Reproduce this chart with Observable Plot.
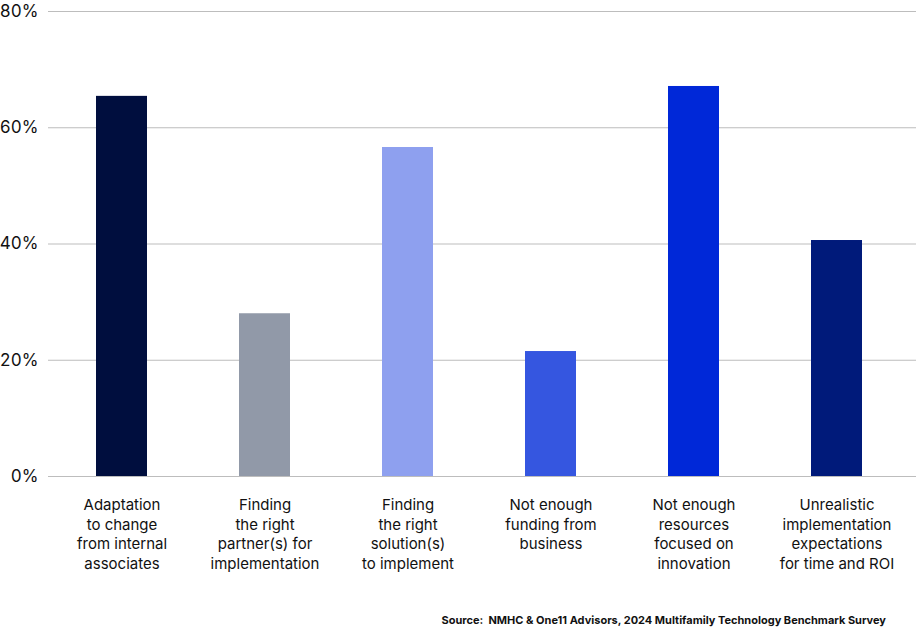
<!DOCTYPE html>
<html>
<head>
<meta charset="utf-8">
<script src="https://cdn.jsdelivr.net/npm/d3@7"></script>
<script src="https://cdn.jsdelivr.net/npm/@observablehq/plot@0.6"></script>
<style>
  html, body { margin: 0; padding: 0; background: #fff; }
  #chart { width: 916px; }
  #caption { font-family: Inter, "Liberation Sans", sans-serif; font-weight: 700; font-size: 11px; color: #111;
    text-align: right; padding-right: 30px; margin-top: 13px; line-height: 14px; }
</style>
</head>
<body>
<div id="chart"></div>
<div id="caption">Source:&nbsp; NMHC &amp; One11 Advisors, 2024 Multifamily Technology Benchmark Survey</div>
<script>
const categories = [
  "Adaptation\nto change\nfrom internal\nassociates",
  "Finding\nthe right\npartner(s) for\nimplementation",
  "Finding\nthe right\nsolution(s)\nto implement",
  "Not enough\nfunding from\nbusiness",
  "Not enough\nresources\nfocused on\ninnovation",
  "Unrealistic\nimplementation\nexpectations\nfor time and ROI"
];
const values = [65.4, 28.0, 56.6, 21.5, 67.1, 40.6];
const barColors = ["#000e3e", "#9199a8", "#8ea0ef", "#3556e0", "#0028d8", "#001a7a"];
const yTicks = [0, 20, 40, 60, 80];

const data = categories.map((c, i) => ({category: c, value: values[i]}));

const chart = Plot.plot({
  width: 916,
  height: 600,
  marginTop: 11,
  marginBottom: 124,
  marginLeft: 48,
  marginRight: 6,
  style: {fontFamily: "Inter, 'Liberation Sans', sans-serif", color: "#111", background: "#fff"},
  x: {domain: categories, paddingInner: 0.64, paddingOuter: 0.32},
  y: {domain: [0, 80]},
  color: {domain: categories, range: barColors},
  marks: [
    Plot.ruleY(yTicks, {stroke: "#bdbdbd", strokeWidth: 1.2, insetRight: -6}),
    Plot.barY(data, {x: "category", y: "value", fill: "category"}),
    Plot.axisY({ticks: yTicks, tickFormat: d => d + "%", tickSize: 0, tickPadding: 10, fontSize: 17, label: null}),
    Plot.axisX({tickSize: 0, tickPadding: 20, fontSize: 15, lineHeight: 1.3, label: null})
  ]
});
document.getElementById("chart").appendChild(chart);
</script>
</body>
</html>
